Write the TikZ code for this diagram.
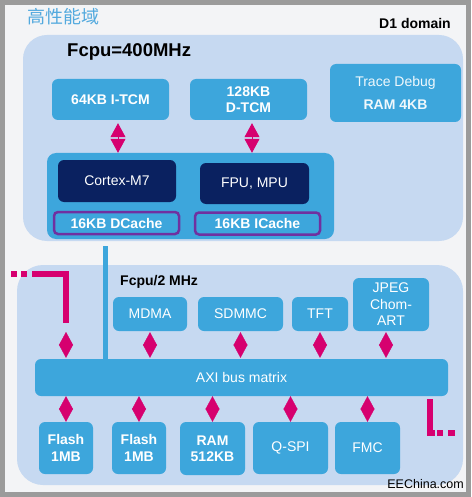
\documentclass[tikz,border=0pt]{standalone}
\usepackage{fontspec}
\setmainfont{Liberation Sans}
\newfontfamily\cjk{Noto Sans CJK SC}
\usetikzlibrary{arrows.meta}
\definecolor{stpink}{HTML}{D6006F}
\definecolor{midblue}{HTML}{3DA6DC}
\definecolor{domblue}{HTML}{C6D9F1}
\definecolor{navy}{HTML}{0A2160}
\definecolor{cachepurple}{HTML}{7030A0}
\definecolor{pagebg}{HTML}{F3F4F6}
\definecolor{frame}{HTML}{9B9B9B}
\definecolor{titleblue}{HTML}{52A9DE}

\begin{document}
\begin{tikzpicture}[x=1pt,y=-1pt,
		box/.style 2 args={fill=midblue,text=white,rounded corners=6pt,inner sep=0pt,align=center,
			minimum width=#1pt,minimum height=#2pt,font=\fontsize{14}{16.5}\selectfont},
		core/.style 2 args={box={#1}{#2},fill=navy},
		cache/.style 2 args={box={#1}{#2},draw=cachepurple,line width=2.5pt,rounded corners=4pt},
		tlink/.style={draw=stpink,line width=0.8pt,{Triangle[width=15pt,length=14pt]}-{Triangle[width=15pt,length=14pt]}},
		dlink/.style={draw=stpink,line width=0.3pt,{Triangle[width=14pt,length=13pt]}-{Triangle[width=14pt,length=13pt]}},
		pinkline/.style={draw=stpink,line width=6pt},
		label/.style={inner sep=0pt,font=\fontsize{14}{16}\selectfont\bfseries}]
	\useasboundingbox (0,0) rectangle (471,497);
	\fill [frame] (0,0) rectangle (471,497);
	\fill [pagebg] (5,5) rectangle (466,492);
	% title and domains
	\node [anchor=base west,inner sep=0pt,text=titleblue,font=\cjk\fontsize{18}{20}\selectfont] (title) at (27,24) {高性能域};
	\node [label,anchor=base east] (d1) at (451,28.5) {D1 domain};
	\fill [domblue,rounded corners=24pt] (23,35) rectangle (463,241);
	\fill [domblue,rounded corners=26pt] (17,265) rectangle (463,485);
	\node [label,anchor=base west,font=\fontsize{18.5}{20}\selectfont\bfseries] (fcpu) at (67,57) {Fcpu=400MHz};
	\node [label,anchor=base west] (fhalf) at (120,285) {Fcpu/2 MHz};
	% D1 blocks
	\node [box={117}{41}] (itcm) at (110.5,99.5) {\textbf{64KB I-TCM}};
	\node [box={117}{41}] (dtcm) at (248.5,99.5) {\textbf{128KB}\\\textbf{D-TCM}};
	\node [box={131}{58},text=white!92!midblue] (trace) at (395.5,93) {Trace Debug\\[7pt]\textbf{RAM 4KB}};
	\node [box={287}{86},rounded corners=9pt] (m7) at (190.5,196) {};
	\node [core={118}{42}] (cortex) at (117,181) {Cortex-M7};
	\node [core={109}{41}] (fpu) at (254.5,183.5) {FPU, MPU};
	\node [cache={125}{22}] (dcache) at (116.5,223) {\textbf{16KB DCache}};
	\node [cache={125}{22}] (icache) at (257.5,223.5) {\textbf{16KB ICache}};
	\draw [tlink,shorten <=3pt] ([xshift=7.5pt]itcm.south) -- ([xshift=7.5pt]itcm.south |- m7.north);
	\draw [tlink,shorten <=3pt] ([xshift=3.5pt]dtcm.south) -- ([xshift=3.5pt]dtcm.south |- m7.north);
	% AXI side
	\node [box={413}{37}] (axi) at (241.5,377.5) {AXI bus matrix};
	\node [box={74}{34}] (mdma) at (150,314) {MDMA};
	\node [box={85}{34}] (sdmmc) at (240.5,314) {SDMMC};
	\node [box={56}{34}] (tft) at (320,314) {TFT};
	\node [box={76}{53}] (jpeg) at (391,304.5) {JPEG\\Chom-\\ART};
	\node [box={54}{52}] (flasha) at (66,448) {\textbf{Flash}\\\textbf{1MB}};
	\node [box={54}{52}] (flashb) at (139,448) {\textbf{Flash}\\\textbf{1MB}};
	\node [box={65}{53}] (ram) at (212.5,448.5) {\textbf{RAM}\\\textbf{512KB}};
	\node [box={75}{52}] (qspi) at (290.5,448) {Q-SPI};
	\node [box={65}{52}] (fmc) at (367.5,448) {FMC};
	\coordinate (bus) at (105,246);
	\coordinate (ext) at (66,332);
	\draw [midblue,line width=5pt] (bus) -- (bus |- axi.north);
	\draw [pinkline,dash pattern=on 6pt off 4pt on 6pt off 5pt on 200pt] (11,274) -| (66,323);
	\draw [pinkline,dash pattern=on 39pt off 2pt on 6pt off 5pt on 7pt] (430,399) |- (455,433);
	\draw [dlink,shorten >=1pt] (ext) -- (ext |- axi.north);
	\foreach \n in {mdma,sdmmc,tft}
		\draw [dlink,shorten <=1pt,shorten >=1pt] (\n.south) -- (\n.south |- axi.north);
	\draw [dlink,shorten <=1pt,shorten >=1pt] ([xshift=-5pt]jpeg.south) -- ([xshift=-5pt]jpeg.south |- axi.north);
	\foreach \n in {flasha,flashb,ram,qspi,fmc}
		\draw [dlink] (axi.south -| \n.north) -- (\n.north);
	\node [anchor=base east,inner sep=0pt,font=\fontsize{12.5}{14}\selectfont] (site) at (464,488) {EEChina.com};
\end{tikzpicture}
\end{document}
